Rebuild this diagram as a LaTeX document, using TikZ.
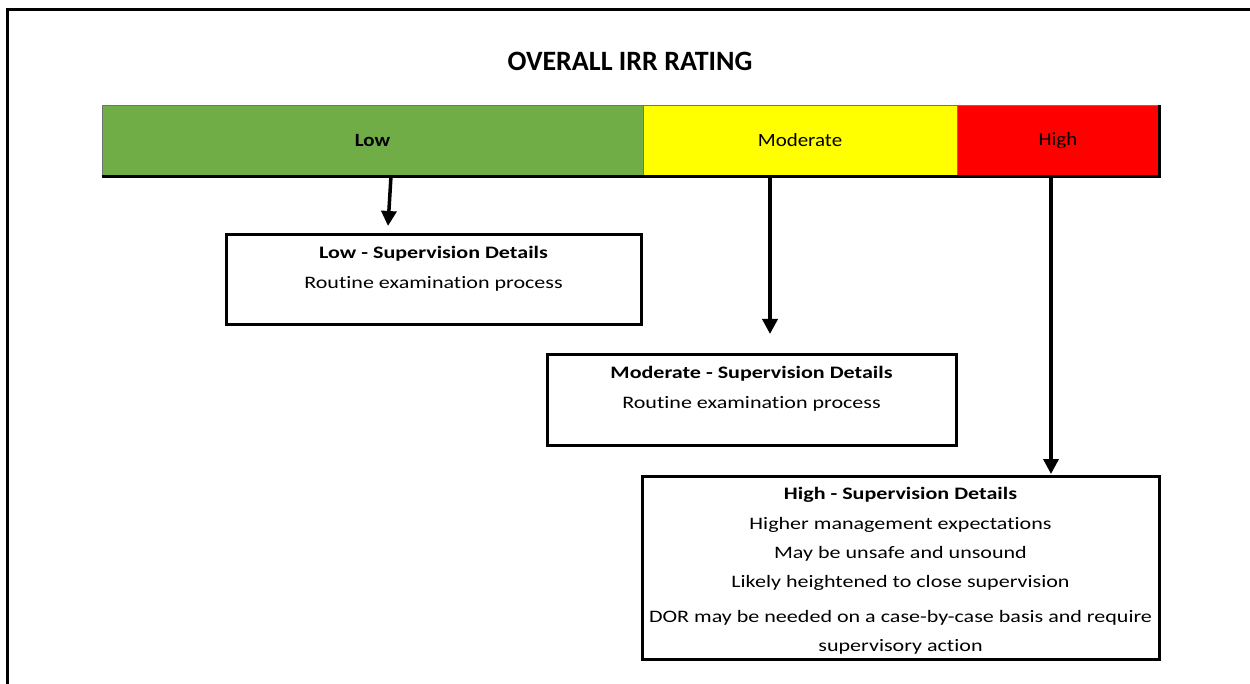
\documentclass[tikz,border=0pt]{standalone}
\usepackage{fontspec}
\setmainfont{Carlito}[Ligatures=NoCommon]
\newfontfamily\bodyf[FakeStretch=1.26,Ligatures=NoCommon]{Carlito}
\newfontfamily\barf[FakeStretch=1.12,Ligatures=NoCommon]{Carlito}
\usetikzlibrary{arrows.meta}
\definecolor{lowgreen}{HTML}{70AD47}
\definecolor{modyellow}{HTML}{FFFF00}
\definecolor{highred}{HTML}{FF0000}
\tikzset{
  frameline/.style={line width=3pt, black},
  cell/.style={draw=black!55, line width=0.8pt, inner sep=0pt, minimum height=71pt, font=\barf\fontsize{18.7}{22}\selectfont},
  boxnode/.style={draw=black, line width=3pt, inner sep=0pt},
  boxtext/.style={inner sep=0pt, align=center, anchor=north, font=\bodyf\fontsize{17.5}{30}\selectfont},
  arr/.style={line width=3.5pt, -{Triangle[width=15pt,length=15pt]}},
}
\begin{document}
\begin{tikzpicture}[x=1pt,y=-1pt]
\useasboundingbox (0,0) rectangle (1250,684);
% outer frame (top and left)
\coordinate (ftl) at (7,10);
\coordinate (ftr) at (1250,10);
\coordinate (fbl) at (7,684);
\draw[frameline] (ftr) -- (ftl) -- (fbl);
% title
\node[font=\bfseries\fontsize{28}{32}\selectfont] (title) at (630,61) {OVERALL IRR RATING};
% rating bar
\node[cell, fill=lowgreen, minimum width=541pt] (low) at (372.5,140.5) {\bfseries Low};
\node[cell, fill=modyellow, minimum width=314pt] (mod) at (800,140.5) {Moderate};
\node[cell, fill=highred, minimum width=202pt] (high) at (1058,140.5) {High};
\draw[line width=3pt] (low.south west) -- (high.south east) -- (high.north east);
% boxes
\node[boxnode, minimum width=415pt, minimum height=90pt] (lowbox) at (433.5,280) {};
\node[boxnode, minimum width=409pt, minimum height=90pt] (modbox) at (751.5,400) {};
\node[boxnode, minimum width=517pt, minimum height=183pt] (highbox) at (900.5,567.5) {};
% box texts
\node[boxtext] (lowtxt) at ([yshift=-13pt]lowbox.north) {{\bfseries Low - Supervision Details}\\Routine examination process};
\node[boxtext] (modtxt) at ([yshift=-13pt]modbox.north) {{\bfseries Moderate - Supervision Details}\\Routine examination process};
\node[boxtext, font=\bodyf\fontsize{17.5}{29.3}\selectfont] (hightxt) at ([yshift=-13pt]highbox.north) {{\bfseries High - Supervision Details}\\Higher management expectations\\May be unsafe and unsound\\Likely heightened to close supervision\\[5.5pt]DOR may be needed on a case-by-case basis and require\\supervisory action};
% arrows
\coordinate (a1s) at (391,176);
\coordinate (a1e) at (388,226);
\draw[arr] (a1s) -- (a1e);
\coordinate (a2s) at (770,176);
\coordinate (a2e) at (770,334);
\draw[arr] (a2s) -- (a2e);
\coordinate (a3s) at (1051,176);
\coordinate (a3e) at (1051,474);
\draw[arr] (a3s) -- (a3e);
\end{tikzpicture}
\end{document}
